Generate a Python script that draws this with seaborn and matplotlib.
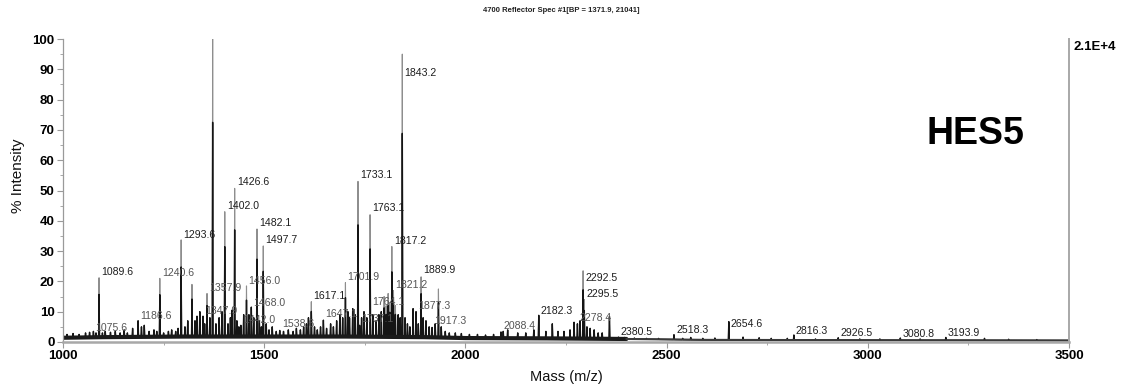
import numpy as np
import pandas as pd
import matplotlib
matplotlib.use("Agg")
import matplotlib.pyplot as plt
import seaborn as sns

# ---------------- data ----------------
# labelled peaks (m/z, % intensity at peak top)
label_mass = [1075.6, 1089.6, 1186.6, 1240.6, 1293.6, 1347.9, 1357.9, 1371.9,
              1402.0, 1426.6, 1442.0, 1456.0, 1468.0, 1482.1, 1497.7, 1538.6,
              1617.1, 1647.1, 1701.9, 1733.1, 1737.1, 1763.1, 1764.1, 1817.2,
              1821.2, 1843.2, 1877.3, 1889.9, 1917.3, 2088.4, 2182.3, 2278.4,
              2292.5, 2295.5, 2380.5, 2518.3, 2654.6, 2816.3, 2926.5, 3080.8,
              3193.9]
label_height = [3.5, 21.2, 7.0, 21.0, 33.7, 8.5, 16.0, 100.0,
                43.0, 50.7, 5.5, 18.5, 11.5, 37.3, 31.7, 3.8,
                13.3, 7.2, 19.6, 53.0, 5.5, 42.0, 11.3, 31.5,
                17.0, 95.0, 10.0, 21.5, 4.8, 3.3, 8.8, 6.0,
                23.5, 14.0, 1.6, 2.4, 6.7, 2.3, 1.4, 1.3,
                1.5]

# unlabelled peaks (m/z, % intensity)
minor_mass = [1010, 1025, 1040, 1056, 1066, 1082, 1098, 1105,
              1118, 1130, 1142, 1152, 1160, 1173, 1195, 1202,
              1214, 1226, 1233, 1250, 1262, 1270, 1280, 1286, 1303,
              1310, 1320.5, 1328, 1333, 1340, 1352, 1365, 1380, 1388, 1395,
              1410, 1416, 1420, 1432, 1437, 1449, 1462, 1474, 1488, 1493,
              1505, 1512, 1520, 1530, 1548, 1560, 1572, 1580, 1590, 1598, 1605, 1610,
              1625, 1632, 1640, 1655, 1665, 1672, 1680, 1688, 1695, 1708,
              1712, 1720, 1726, 1742, 1748, 1755, 1770, 1778, 1785, 1791, 1798, 1803,
              1808, 1812, 1826, 1833, 1838, 1850, 1856, 1862, 1870, 1883, 1895,
              1902, 1910, 1925, 1933, 1940, 1950, 1960, 1975, 1990,
              2010, 2030, 2050, 2070, 2094, 2105, 2130, 2150, 2170, 2200, 2216,
              2230, 2245, 2260, 2270, 2285,
              2302, 2310, 2320, 2330, 2340, 2358, 2395,
              2420, 2450, 2480, 2540, 2560, 2590, 2620, 2690, 2730, 2760, 2800,
              2870, 2980, 3030, 3130, 3290, 3350, 3420]
minor_height = [2.5, 2.8, 2.5, 3.0, 3.2, 3.0, 3.0, 3.5,
                3.2, 3.5, 3.0, 4.0, 3.0, 4.5, 5.0, 5.5,
                3.5, 4.0, 3.5, 3.0, 3.5, 4.0, 3.5, 4.5, 5.0,
                7.0, 19.0, 7.0, 8.5, 10.0, 6.0, 8.0, 6.0, 8.0, 10.0,
                6.0, 8.0, 10.5, 7.0, 5.0, 9.0, 9.0, 8.0, 7.0, 5.0,
                6.0, 4.0, 5.0, 3.5, 3.5, 4.0, 3.5, 4.5, 4.0, 5.0, 6.0, 8.0,
                5.0, 4.0, 5.0, 4.5, 6.0, 5.0, 7.0, 9.0, 8.0, 10.0,
                8.0, 11.0, 9.0, 8.0, 10.0, 8.0, 9.0, 7.0, 9.0, 10.0, 15.0, 12.0,
                16.0, 13.0, 12.0, 9.0, 8.0, 8.0, 6.0, 5.0, 11.0, 6.0, 8.0,
                7.0, 5.0, 6.0, 17.5, 5.0, 3.5, 3.0, 3.0, 2.8,
                2.5, 2.5, 2.3, 2.5, 3.5, 4.0, 3.0, 3.0, 4.0, 3.5, 6.0,
                3.5, 3.5, 4.0, 6.5, 7.0,
                5.0, 4.5, 4.0, 3.0, 3.0, 8.4, 1.5,
                1.3, 1.2, 1.2, 1.2, 1.5, 1.2, 1.3, 1.6, 1.4, 1.2, 1.2,
                1.0, 1.0, 1.0, 1.0, 1.2, 0.9, 0.8]

# baseline level of the trace
base_mass = [1000, 1100, 1300, 1500, 1700, 1900, 2000, 2200, 2400, 2600, 3000, 3500]
base_level = [1.4, 1.6, 1.8, 1.8, 1.8, 1.6, 1.3, 1.2, 1.0, 0.7, 0.6, 0.5]

# ---------------- layout (label placement) ----------------
label_y = [4.7, 23.2, 8.7, 22.9, 35.3, 10.3, 17.9, 102.0,
           44.9, 52.7, 7.3, 20.2, 13.0, 39.3, 33.6, 5.8,
           15.2, 9.1, 21.6, 55.1, 7.6, 44.1, 13.3, 33.3,
           18.8, 88.8, 12.0, 23.8, 6.9, 5.3, 10.2, 8.0,
           21.2, 16.0, 3.4, 4.0, 5.9, 3.6, 3.1, 2.6,
           3.1]
light_labels = {1075.6, 1186.6, 1240.6, 1347.9, 1357.9, 1442.0, 1456.0, 1468.0,
                1538.6, 1647.1, 1701.9, 1737.1, 1764.1, 1821.2, 1877.3, 1917.3,
                2088.4, 2278.4}

# ---------------- build profile ----------------
all_mass = np.array(label_mass + minor_mass, dtype=float)
all_height = np.array(label_height + minor_height, dtype=float)
half_w = 1.2
rows_full, rows_dark = [], []
for m, h in zip(all_mass, all_height):
    b = np.interp(m, base_mass, base_level)
    top = max(h, b)
    dark_top = top if top < 12 else b + 0.72 * (top - b)
    for mm, yy, yd in ((m - half_w, b, b), (m, top, dark_top), (m + half_w, b, b)):
        rows_full.append((mm, yy))
        rows_dark.append((mm, yd))
for m, b in zip(base_mass, base_level):
    rows_full.append((m, b))
    rows_dark.append((m, b))
full = pd.DataFrame(rows_full, columns=["mass", "intensity"]).sort_values("mass")
dark = pd.DataFrame(rows_dark, columns=["mass", "intensity"]).sort_values("mass")
base_df = pd.DataFrame({"mass": base_mass, "intensity": base_level})

# ---------------- plot ----------------
sns.set_style("white")
plt.rcParams["font.family"] = ["Liberation Sans", "DejaVu Sans"]

W, H = 1129, 388
fig = plt.figure(figsize=(W / 100, H / 100), dpi=100)
ax = fig.add_axes([63 / W, 1 - 342 / H, (1069 - 63) / W, (342 - 39) / H])

sns.lineplot(data=full, x="mass", y="intensity", estimator=None, sort=False,
             color="#8e8e8e", lw=0.8, ax=ax)
sns.lineplot(data=dark, x="mass", y="intensity", estimator=None, sort=False,
             color="#151515", lw=1.0, ax=ax)
sns.lineplot(data=base_df[base_df["mass"] <= 2400], x="mass", y="intensity",
             estimator=None, sort=False, color="#1a1a1a", lw=3.0, ax=ax)
sns.lineplot(data=base_df[base_df["mass"] >= 2400], x="mass", y="intensity",
             estimator=None, sort=False, color="#3a3a3a", lw=1.5, ax=ax)

for m, ly in zip(label_mass, label_y):
    col = "#555555" if m in light_labels else "#1e1e1e"
    ax.annotate(f"{m:.1f}", xy=(m, ly), xytext=(1.5, 0), textcoords="offset points",
                ha="left", va="center", fontsize=7.6, color=col, clip_on=False)

ax.set_xlim(1000, 3500)
ax.set_ylim(0, 100)
ax.set_xticks([1000, 1500, 2000, 2500, 3000, 3500])
ax.set_xticks(np.arange(1000, 3501, 250), minor=True)
ax.set_yticks(np.arange(0, 101, 10))
ax.set_yticks(np.arange(0, 101, 5), minor=True)
ax.set_xlabel("")
ax.set_ylabel("")
for lab in ax.get_xticklabels() + ax.get_yticklabels():
    lab.set_fontweight("bold")
ax.tick_params(axis="both", which="major", direction="out", length=4, width=0.8,
               color="#9a9a9a", labelsize=9.5, labelcolor="black", pad=2,
               bottom=True, left=True)
ax.tick_params(axis="both", which="minor", direction="out", length=2.5, width=0.6,
               color="#9a9a9a", bottom=True, left=True)
ax.spines["top"].set_visible(False)
ax.spines["left"].set_color("#9a9a9a")
ax.spines["left"].set_linewidth(0.9)
ax.spines["bottom"].set_color("#a8a8a8")
ax.spines["bottom"].set_linewidth(1.8)
ax.spines["right"].set_color("#a8a8a8")
ax.spines["right"].set_linewidth(1.4)
ax.grid(False)

fig.text(561 / W, 1 - 10 / H, "4700 Reflector Spec #1[BP = 1371.9, 21041]",
         ha="center", va="center", fontsize=5.5, fontweight="bold", color="#222222")
fig.text(1074 / W, 1 - 47 / H, "2.1E+4", ha="left", va="center",
         fontsize=9.5, fontweight="bold", color="black")
fig.text(975 / W, 1 - 134 / H, "HES5", ha="center", va="center",
         fontsize=27, fontweight="bold", color="black")
fig.text(18 / W, 1 - 176 / H, "% Intensity", rotation=90, ha="center", va="center",
         fontsize=11, color="#111111")
fig.text(566 / W, 1 - 377 / H, "Mass (m/z)", ha="center", va="center",
         fontsize=10.5, color="#111111")

fig.savefig("out.png", dpi=100)
